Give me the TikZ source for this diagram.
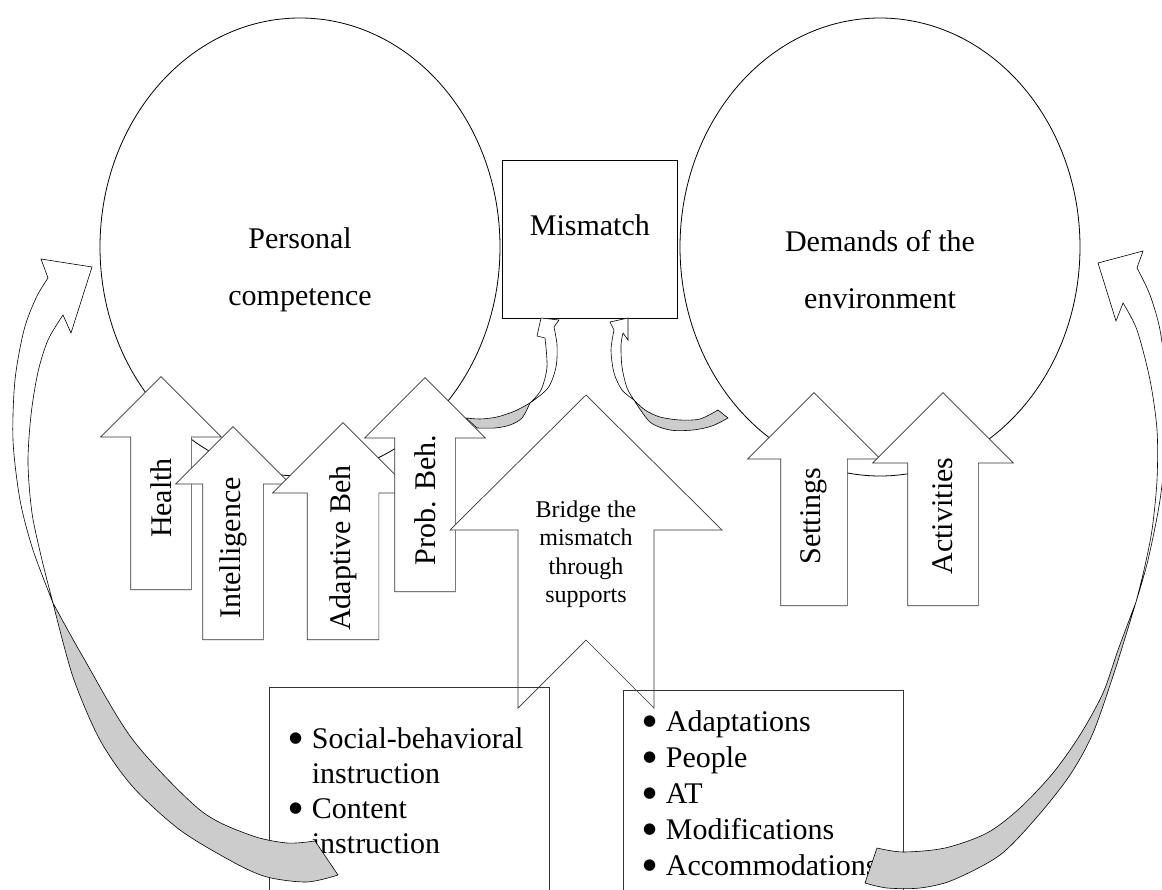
\documentclass[tikz,border=0pt]{standalone}
\usepackage{fontspec}
\setmainfont{Liberation Serif}
\newfontfamily\dotfont{DejaVu Sans}
\usetikzlibrary{shapes,arrows,positioning}

\newcommand{\listdot}{\makebox[14.7pt][c]{\raisebox{6pt}{\dotfont\fontsize{15}{15}\selectfont ●}}}

\tikzset{
  bubble/.style={draw, ellipse, line width=0.8pt, minimum width=400, minimum height=458, inner sep=0pt},
  bigtext/.style={align=center, inner sep=0pt, font=\fontsize{30}{57}\selectfont},
  bridgetext/.style={align=center, inner sep=0pt, font=\fontsize{24}{28.5}\selectfont},
  uptext/.style={rotate=90, inner sep=0pt, font=\fontsize{30}{35}\selectfont},
  upblock/.style={draw=black!80, fill=white, line width=0.7pt, single arrow, single arrow tip angle=90,
                  rotate=90, anchor=tail, inner xsep=0pt, inner ysep=30, single arrow head extend=30,
                  minimum height=213},
  blockline/.style={draw=black!80, fill=white, line width=0.7pt},
  plainbox/.style={draw=black!80, line width=0.7pt, rectangle, inner sep=0pt, anchor=north west},
  listtext/.style={inner sep=0pt, anchor=base west},
  face3d/.style={draw, fill=white, line width=0.6pt},
  shade3d/.style={draw, fill=gray!40, line width=0.6pt}
}

\begin{document}
\begin{tikzpicture}[x=1pt, y=-1pt]
    \useasboundingbox (0,0) rectangle (1162,890);

    % Circles and mismatch box
    \node[bubble] (personal) at (300,247) {};
    \node[bubble] (demands) at (880,247) {};
    \node[plainbox, draw=black, minimum width=175, minimum height=158] (mismatch) at (502,160) {};
    \node[bigtext] (personaltext) at ([yshift=-23pt]personal.center) {Personal\\competence};
    \node[bigtext] (demandstext) at ([yshift=-23pt]demands.center) {Demands of the\\environment};
    \node[bigtext] (mismatchtext) at ([yshift=14pt]mismatch.center) {Mismatch};

    % Small curved arrows into the mismatch box
    \filldraw[face3d] (545,338) -- (537,336) -- (541,318) -- (559,320) -- (554,327)
        -- plot[smooth] coordinates {(554,327) (557,345) (556,367) (548,388) (530,403)}
        -- plot[smooth] coordinates {(530,403) (541,390) (547,367) (545,338)} -- cycle;
    \filldraw[shade3d] plot[smooth] coordinates {(530,403) (515,411) (497,417) (480,419) (466,418)}
        -- (477,428)
        -- plot[smooth] coordinates {(477,428) (495,428) (510,425) (522,418) (530,403)} -- cycle;
    \filldraw[face3d] (614,330) -- (610,322) -- (628,318) -- (628,340) -- (623,333)
        -- plot[smooth] coordinates {(623,333) (621,345) (622,367) (627,388) (634,400)}
        -- plot[smooth] coordinates {(634,400) (622,390) (614,373) (611,350) (614,330)} -- cycle;
    \filldraw[shade3d] plot[smooth] coordinates {(634,400) (645,410) (660,417) (680,420) (700,419) (718,410)}
        -- (728,418)
        -- plot[smooth] coordinates {(728,418) (712,426) (693,430) (670,430) (650,422) (634,400)} -- cycle;

    % Block arrows
    \node[upblock] (health) at (161,590) {};
    \node[upblock, single arrow head extend=27] (intel) at (233,640) {};
    \node[upblock, inner ysep=35.5, single arrow head extend=34.5, minimum height=217] (adaptive) at (343,640) {};
    \node[upblock, minimum height=214] (probbeh) at (425,592) {};
    \node[upblock, inner ysep=33, single arrow head extend=33] (settings) at (814,606) {};
    \node[upblock, inner ysep=35, single arrow head extend=35] (activities) at (943,606) {};

    \node[uptext] (healthtext) at ([yshift=92pt]health.tail) {Health};
    \node[uptext] (inteltext) at ([yshift=92pt]intel.tail) {Intelligence};
    \node[uptext] (adaptivetext) at ([yshift=92pt]adaptive.tail) {Adaptive Beh};
    \node[uptext] (probbehtext) at ([yshift=92pt]probbeh.tail) {Prob. Beh.};
    \node[uptext] (settingstext) at ([yshift=90pt]settings.tail) {Settings};
    \node[uptext] (activitiestext) at ([yshift=90pt]activities.tail) {Activities};

    % Bridge arrow
    \draw[blockline] (586,395) -- (722,530) -- (654,530) -- (654,708) -- (586,640)
        -- (518,708) -- (518,530) -- (450,530) -- cycle;
    \node[bridgetext] (bridge) at (586,554) {Bridge the\\mismatch\\through\\supports};

    % Support boxes
    \node[plainbox, minimum width=280, minimum height=220] (leftbox) at (269,687) {};
    \node[plainbox, minimum width=280, minimum height=220] (rightbox) at (623,690) {};
    \node[listtext, font=\fontsize{30}{35}\selectfont] (leftlist) at (288,748)
        {\begin{tabular}[t]{@{}l@{\hspace{9pt}}l@{}}
         \listdot & Social-behavioral\\ & instruction\\
         \listdot & Content\\ & instruction
         \end{tabular}};
    \node[listtext, font=\fontsize{30}{36}\selectfont] (rightlist) at (642,731)
        {\begin{tabular}[t]{@{}l@{\hspace{9pt}}l@{}}
         \listdot & Adaptations\\ \listdot & People\\ \listdot & AT\\
         \listdot & Modifications\\ \listdot & Accommodations
         \end{tabular}};

    % Big curved arrows back to the circles
    \filldraw[face3d] plot[smooth] coordinates {(53,603) (33,550) (20,500) (13,440) (15,380) (24,330) (36,298) (48,278)}
        -- (41,259) -- (92,267) -- (71,333) -- (63,315)
        -- plot[smooth] coordinates {(63,315) (48,340) (38,372) (31,415) (28,463) (32,513) (42,560) (53,603)} -- cycle;
    \filldraw[shade3d] plot[smooth] coordinates {(53,603) (83,657) (133,740) (200,810) (250,835) (287,843) (315,841)}
        -- (338,875)
        -- plot[smooth] coordinates {(338,875) (307,882) (267,877) (233,862) (180,830) (133,787) (100,740) (73,677) (53,603)} -- cycle;
    \filldraw[face3d] plot[smooth] coordinates {(1136,602) (1148,560) (1160,500) (1166,440) (1166,380) (1160,330) (1150,295) (1137,268)}
        -- (1143,251) -- (1098,263) -- (1116,321) -- (1123,303)
        -- plot[smooth] coordinates {(1123,303) (1137,330) (1150,380) (1157,430) (1157,480) (1152,530) (1144,570) (1136,602)} -- cycle;
    \filldraw[shade3d] plot[smooth] coordinates {(1136,602) (1118,650) (1103,693) (1080,735) (1053,773) (1020,808) (987,833) (945,848) (903,852) (877,848)}
        -- (865,883)
        -- plot[smooth] coordinates {(865,883) (887,888) (920,888) (953,880) (1000,855) (1037,817) (1070,775) (1093,733) (1115,670) (1136,602)} -- cycle;
\end{tikzpicture}
\end{document}
